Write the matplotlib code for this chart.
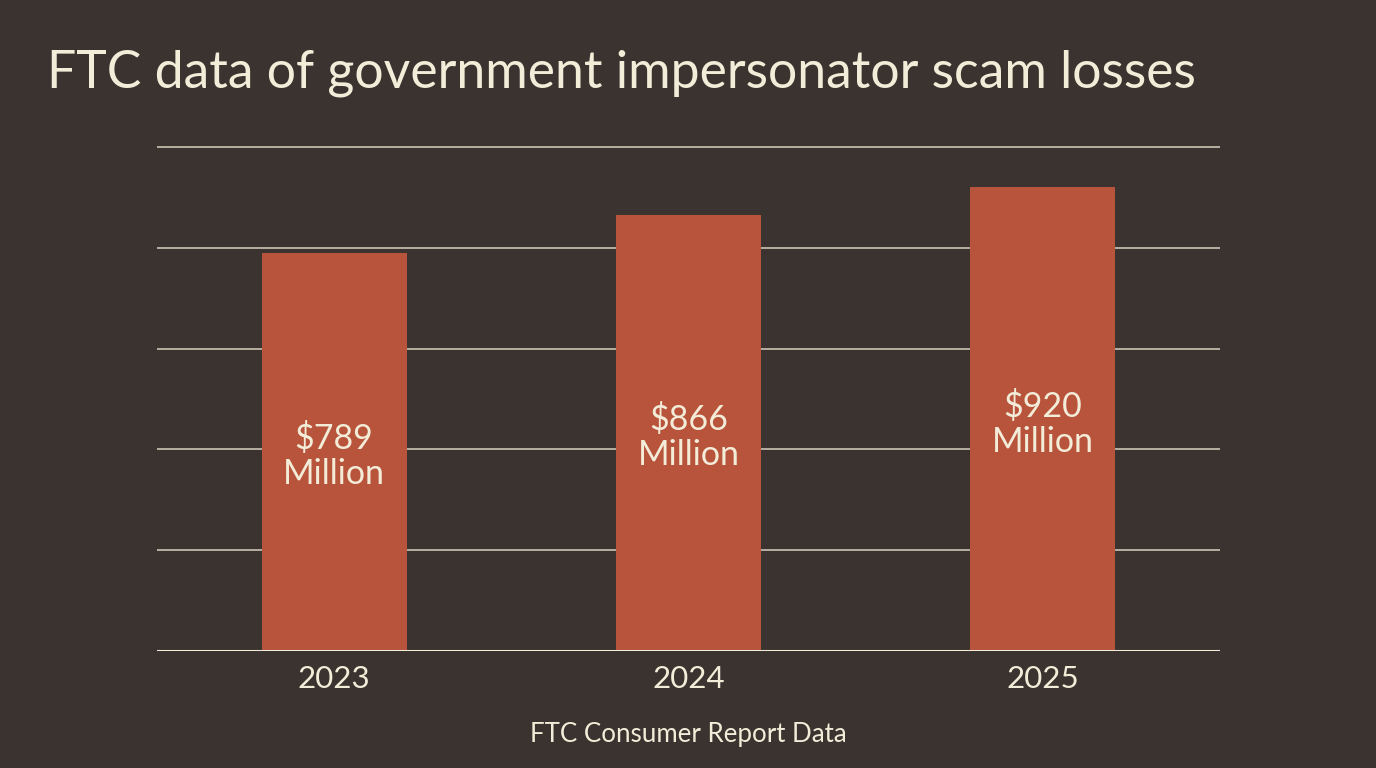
import numpy as np
import matplotlib.pyplot as plt

years = ['2023', '2024', '2025']
losses = [789, 866, 920]  # million USD
bar_labels = ['$789\nMillion', '$866\nMillion', '$920\nMillion']
grid_values = [200, 400, 600, 800, 1000]

bg = '#3a3330'
bar_color = '#b8543b'
cream = '#f3ecd8'

plt.rcParams['font.family'] = ['Lato', 'DejaVu Sans']

fig = plt.figure(figsize=(13.76, 7.68), dpi=100, facecolor=bg)
ax = fig.add_axes([0.1141, 0.1523, 0.7725, 0.6628])
ax.set_facecolor(bg)

x = np.arange(len(years))
ax.bar(x, losses, width=0.41, color=bar_color, zorder=3)

for xi, v, lab in zip(x, losses, bar_labels):
    ax.text(xi, v * 0.49, lab, ha='center', va='center', color=cream,
            fontsize=24.5, linespacing=1.12, zorder=4)

for g in grid_values:
    ax.axhline(g, color='#d9d2c0', lw=1.1, zorder=1)
ax.axhline(0, color=cream, lw=2.2, zorder=5)

ax.set_xlim(-0.5, 2.5)
ax.set_ylim(0, 1010)
ax.set_xticks(x)
ax.set_xticklabels(years, color=cream, fontsize=22.5)
ax.set_yticks([])
ax.tick_params(axis='x', length=0, pad=10)
for s in ax.spines.values():
    s.set_visible(False)

fig.text(0.034, 0.886, 'FTC data of government impersonator scam losses',
         color=cream, fontsize=37.3, ha='left', va='baseline')
fig.text(0.5, 0.034, 'FTC Consumer Report Data', color=cream,
         fontsize=18.6, ha='center', va='baseline')

fig.savefig('out.png', dpi=100, facecolor=bg)
